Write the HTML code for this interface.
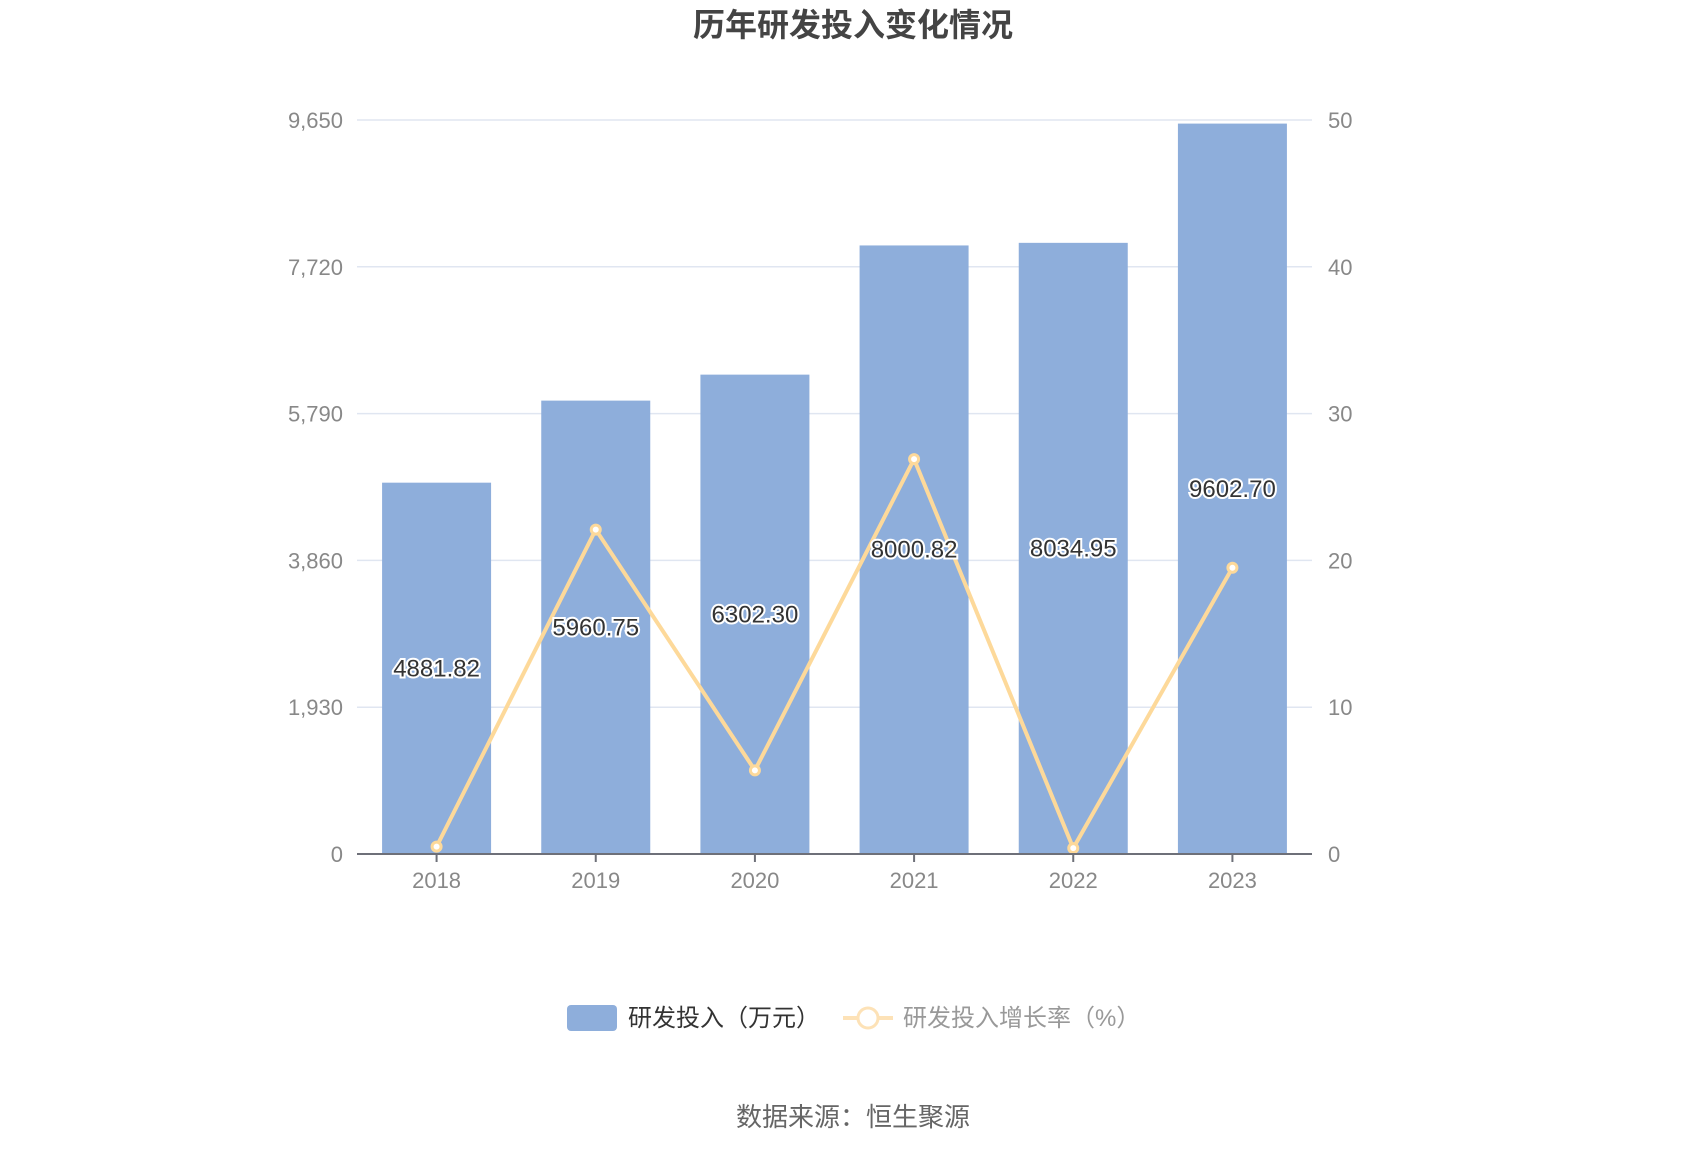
<!DOCTYPE html>
<html><head><meta charset="utf-8"><style>
body{margin:0;background:#fff;}
svg{display:block;font-family:"Liberation Sans","Noto Sans CJK SC",sans-serif;}
</style></head><body>
<svg id="chart" width="1700" height="1150">
<text x="853" y="36" text-anchor="middle" font-size="32" font-weight="bold" fill="#444">历年研发投入变化情况</text>
<g id="grid"></g><g id="bars"></g><g id="line"></g><g id="labels"></g><g id="axes"></g>
<g>
<rect x="567" y="1005" width="50" height="26" rx="4" fill="#8eaedb"/>
<text x="628" y="1026" font-size="24" fill="#333">研发投入（万元）</text>
<line x1="843" y1="1018" x2="893" y2="1018" stroke="#fde2b7" stroke-width="4"/>
<circle cx="868" cy="1018" r="10" fill="#fff" stroke="#fde2b7" stroke-width="3"/>
<text x="903" y="1026" font-size="24" fill="#999">研发投入增长率（%）</text>
</g>
<text x="853" y="1126" text-anchor="middle" font-size="26" fill="#666">数据来源：恒生聚源</text>
</svg>
<script>
const categories=["2018","2019","2020","2021","2022","2023"];
const rdValues=[4881.82,5960.75,6302.30,8000.82,8034.95,9602.70];
const growthValues=[0.5,22.1,5.7,26.9,0.4,19.5];
const leftTicks=[0,1930,3860,5790,7720,9650];
const rightTicks=[0,10,20,30,40,50];
const NS="http://www.w3.org/2000/svg";
const L=357,R=1312,T=120,B=854;
const step=(R-L)/categories.length, bw=109;
const xC=i=>L+step*(i+0.5);
const yL=v=>B-(v/9650)*(B-T);
const yR=v=>B-(v/50)*(B-T);
function mk(tag,attrs,parent,txt){const e=document.createElementNS(NS,tag);for(const k in attrs)e.setAttribute(k,attrs[k]);if(txt!==undefined)e.textContent=txt;document.getElementById(parent).appendChild(e);return e;}
leftTicks.forEach((t,i)=>{
 const y=yL(t);
 if(t>0){const g=mk('line',{x1:L,x2:R,y1:y,y2:y,stroke:'#e0e6f1','stroke-width':1.5},'grid');
 
 }
 const a=mk('text',{x:L-14,y:y+8,'text-anchor':'end','font-size':22,fill:'#888'},'axes',t.toLocaleString('en-US'));
 
 
});
rightTicks.forEach(t=>{
 const a=mk('text',{x:R+16,y:yR(t)+8,'font-size':22,fill:'#888'},'axes',String(t));
 
 
});
const ax=mk('line',{x1:L,x2:R,y1:B,y2:B,stroke:'#6e7079','stroke-width':2},'axes');


categories.forEach((c,i)=>{
 const x=xC(i);
 const tk=mk('line',{x1:x,x2:x,y1:B,y2:B+8,stroke:'#6e7079','stroke-width':2},'axes');
 
 
 const lb=mk('text',{x:x,y:B+34,'text-anchor':'middle','font-size':22,fill:'#888'},'axes',c);
 
 
 const v=rdValues[i];
 const b=mk('rect',{x:x-bw/2,y:yL(v),width:bw,height:B-yL(v),fill:'#8eaedb'},'bars');
 
 
 const t=mk('text',{x:x,y:(yL(v)+B)/2+8,'text-anchor':'middle','font-size':24,fill:'#333',stroke:'#fff','stroke-width':4,'paint-order':'stroke'},'labels',v.toFixed(2));
 
 
});
const pts=growthValues.map((v,i)=>xC(i)+','+yR(v)).join(' ');
const pl=mk('polyline',{points:pts,fill:'none',stroke:'#fdd99a','stroke-width':4},'line');


growthValues.forEach((v,i)=>{
 const c=mk('circle',{cx:xC(i),cy:yR(v),r:4.5,fill:'#fff',stroke:'#fdd99a','stroke-width':3},'line');
 
 
});
</script>
</body></html>
